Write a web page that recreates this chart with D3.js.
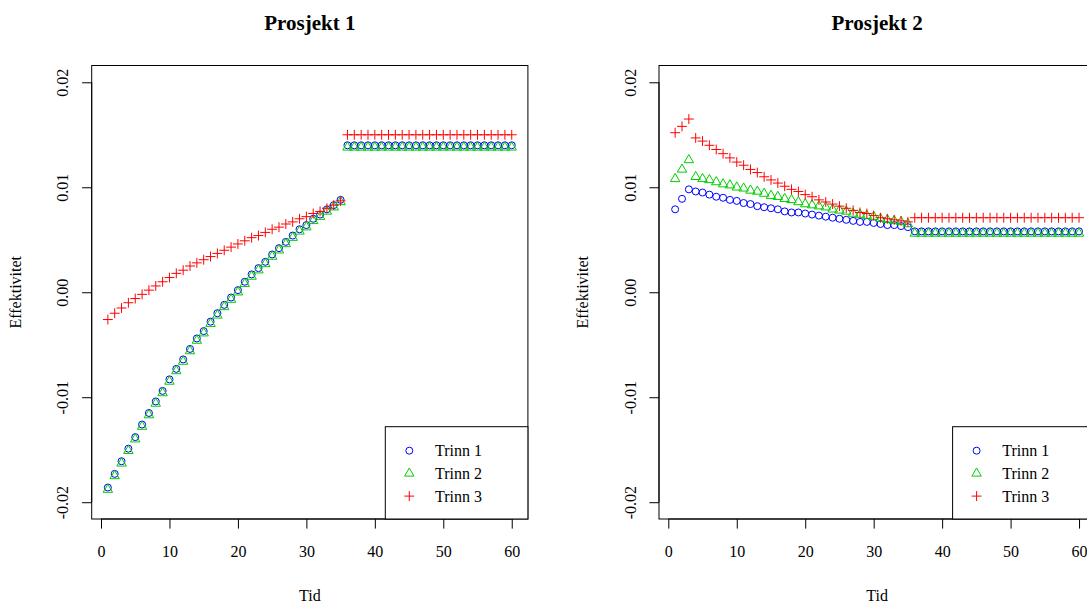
<!DOCTYPE html>
<html>
<head>
<meta charset="utf-8">
<script src="https://cdn.jsdelivr.net/npm/d3@7"></script>
<style>
body { margin: 0; background: #fff; }
svg { display: block; font-family: "Liberation Serif", "Times New Roman", serif; }
</style>
</head>
<body>
<div id="chart"></div>
<script>
// x = Tid, 1..60
var tid = d3.range(1, 61);

// Prosjekt 1
var p1Trinn1 = [-0.0186,-0.0173,-0.0161,-0.0149,-0.0138,-0.0126,-0.0115,-0.0104,-0.0094,-0.0083,
	-0.0073,-0.0064,-0.0054,-0.0044,-0.0037,-0.0028,-0.0020,-0.0012,-0.0005,0.0002,
	0.0010,0.0017,0.0023,0.0029,0.0036,0.0042,0.0048,0.0054,0.0060,0.0064,
	0.0070,0.0074,0.0079,0.0083,0.0088,0.0140,0.0140,0.0140,0.0140,0.0140,
	0.0140,0.0140,0.0140,0.0140,0.0140,0.0140,0.0140,0.0140,0.0140,0.0140,
	0.0140,0.0140,0.0140,0.0140,0.0140,0.0140,0.0140,0.0140,0.0140,0.0140];
var p1Trinn2 = [-0.0188,-0.0175,-0.0163,-0.0151,-0.0140,-0.0128,-0.0117,-0.0106,-0.0096,-0.0085,
	-0.0075,-0.0066,-0.0056,-0.0046,-0.0039,-0.0030,-0.0022,-0.0014,-0.0007,0.0000,
	0.0008,0.0015,0.0021,0.0027,0.0034,0.0040,0.0046,0.0052,0.0058,0.0062,
	0.0068,0.0072,0.0077,0.0081,0.0086,0.0138,0.0138,0.0138,0.0138,0.0138,
	0.0138,0.0138,0.0138,0.0138,0.0138,0.0138,0.0138,0.0138,0.0138,0.0138,
	0.0138,0.0138,0.0138,0.0138,0.0138,0.0138,0.0138,0.0138,0.0138,0.0138];
var p1Trinn3 = [-0.0026,-0.0020,-0.0015,-0.0010,-0.0006,-0.0002,0.0002,0.0006,0.0010,0.0014,
	0.0018,0.0021,0.0025,0.0028,0.0031,0.0034,0.0037,0.0040,0.0043,0.0046,
	0.0049,0.0052,0.0054,0.0057,0.0060,0.0062,0.0065,0.0067,0.0070,0.0072,
	0.0075,0.0077,0.0080,0.0083,0.0087,0.0150,0.0150,0.0150,0.0150,0.0150,
	0.0150,0.0150,0.0150,0.0150,0.0150,0.0150,0.0150,0.0150,0.0150,0.0150,
	0.0150,0.0150,0.0150,0.0150,0.0150,0.0150,0.0150,0.0150,0.0150,0.0150];

// Prosjekt 2
var p2Trinn1 = [0.0079,0.0089,0.0098,0.0096,0.0095,0.0093,0.0091,0.0090,0.0088,0.0087,
	0.0085,0.0084,0.0082,0.0081,0.0080,0.0079,0.0077,0.0076,0.0076,0.0075,
	0.0074,0.0073,0.0072,0.0071,0.0070,0.0069,0.0068,0.0067,0.0067,0.0066,
	0.0065,0.0064,0.0064,0.0063,0.0062,0.0058,0.0058,0.0058,0.0058,0.0058,
	0.0058,0.0058,0.0058,0.0058,0.0058,0.0058,0.0058,0.0058,0.0058,0.0058,
	0.0058,0.0058,0.0058,0.0058,0.0058,0.0058,0.0058,0.0058,0.0058,0.0058];
var p2Trinn2 = [0.0108,0.0117,0.0126,0.0110,0.0108,0.0107,0.0105,0.0103,0.0102,0.0100,
	0.0099,0.0097,0.0096,0.0094,0.0092,0.0091,0.0089,0.0088,0.0086,0.0084,
	0.0083,0.0082,0.0081,0.0079,0.0078,0.0077,0.0075,0.0074,0.0073,0.0072,
	0.0070,0.0069,0.0068,0.0067,0.0065,0.0056,0.0056,0.0056,0.0056,0.0056,
	0.0056,0.0056,0.0056,0.0056,0.0056,0.0056,0.0056,0.0056,0.0056,0.0056,
	0.0056,0.0056,0.0056,0.0056,0.0056,0.0056,0.0056,0.0056,0.0056,0.0056];
var p2Trinn3 = [0.0152,0.0158,0.0165,0.0147,0.0144,0.0140,0.0136,0.0132,0.0128,0.0124,
	0.0121,0.0117,0.0114,0.0110,0.0107,0.0104,0.0101,0.0098,0.0096,0.0093,
	0.0091,0.0088,0.0086,0.0084,0.0082,0.0080,0.0078,0.0076,0.0075,0.0073,
	0.0071,0.0070,0.0069,0.0068,0.0067,0.0071,0.0071,0.0071,0.0071,0.0071,
	0.0071,0.0071,0.0071,0.0071,0.0071,0.0071,0.0071,0.0071,0.0071,0.0071,
	0.0071,0.0071,0.0071,0.0071,0.0071,0.0071,0.0071,0.0071,0.0071,0.0071];

var titles = ["Prosjekt 1", "Prosjekt 2"];
var seriesNames = ["Trinn 1", "Trinn 2", "Trinn 3"];
var xTicks = [0, 10, 20, 30, 40, 50, 60];
var yTicks = [-0.02, -0.01, 0, 0.01, 0.02];
var yTickLabels = ["-0.02", "-0.01", "0.00", "0.01", "0.02"];

const width = 1087;
const height = 603;
const plotW = 436.2;
const plotTop = 65.5, plotBottom = 519;
const panelLefts = [91.7, 659];
const colors = ["#0000ff", "#00cd00", "#ff0000"];
const R = 3.5; // symbol radius

var svg = d3.select("#chart").append("svg")
	.attr("width", width)
	.attr("height", height);

function symbolPath(k) {
	if (k === 1) return `M0,${-1.555*R}L${1.347*R},${0.778*R}L${-1.347*R},${0.778*R}Z`;
	let a = 1.414 * R;
	return `M${-a},0H${a}M0,${-a}V${a}`;
}

function drawSymbol(g, k, x, y) {
	if (k === 0) {
		g.append("circle").attr("cx", x).attr("cy", y).attr("r", R)
			.attr("fill", "none").attr("stroke", colors[0]).attr("stroke-width", 1);
	} else {
		g.append("path").attr("d", symbolPath(k))
			.attr("transform", `translate(${x},${y})`)
			.attr("fill", "none").attr("stroke", colors[k]).attr("stroke-width", 1);
	}
}

function drawPanel(p, left, series) {
	let xScale = d3.scaleLinear().domain([-1.36, 62.36]).range([left, left + plotW]);
	let yScale = d3.scaleLinear().domain([-0.0216, 0.0216]).range([plotBottom, plotTop]);
	let g = svg.append("g");

	// title
	g.append("text")
		.attr("x", left + plotW / 2).attr("y", 30)
		.attr("text-anchor", "middle")
		.style("font-weight", "bold").style("font-size", "21px")
		.text(titles[p]);

	// x axis
	let xAxis = d3.axisBottom(xScale).tickValues(xTicks).tickSize(9.6);
	let gx = g.append("g")
		.attr("transform", `translate(0, ${plotBottom})`)
		.call(xAxis);
	gx.select(".domain").remove();
	gx.selectAll("line").attr("stroke", "#000");
	gx.selectAll("text")
		.attr("y", 38).attr("dy", 0)
		.style("font-size", "16px").style("font-family", "Liberation Serif, serif")
		.attr("fill", "#000");
	g.append("line")
		.attr("x1", xScale(xTicks[0])).attr("x2", xScale(xTicks[xTicks.length - 1]))
		.attr("y1", plotBottom).attr("y2", plotBottom)
		.attr("stroke", "#000");

	// y axis
	let yAxis = d3.axisLeft(yScale).tickValues(yTicks).tickSize(9.6)
		.tickFormat((d, i) => yTickLabels[i]);
	let gy = g.append("g")
		.attr("transform", `translate(${left}, 0)`)
		.call(yAxis);
	gy.select(".domain").remove();
	gy.selectAll("line").attr("stroke", "#000");
	gy.selectAll("text")
		.attr("x", 0).attr("dy", 0).attr("y", 0)
		.attr("text-anchor", "middle")
		.attr("transform", "translate(-23.5,0) rotate(-90)")
		.style("font-size", "16px").style("font-family", "Liberation Serif, serif")
		.attr("fill", "#000");
	g.append("line")
		.attr("x1", left).attr("x2", left)
		.attr("y1", yScale(yTicks[0])).attr("y2", yScale(yTicks[yTicks.length - 1]))
		.attr("stroke", "#000");

	// axis titles
	g.append("text")
		.attr("x", left + plotW / 2).attr("y", 600.5)
		.attr("text-anchor", "middle").style("font-size", "16px")
		.text("Tid");
	g.append("text")
		.attr("transform", `translate(${left - 71},${(plotTop + plotBottom) / 2}) rotate(-90)`)
		.attr("text-anchor", "middle").style("font-size", "16px")
		.text("Effektivitet");

	// box
	g.append("rect")
		.attr("x", left).attr("y", plotTop)
		.attr("width", plotW).attr("height", plotBottom - plotTop)
		.attr("fill", "none").attr("stroke", "#000");

	// points
	series.forEach(function(vals, k) {
		let sg = g.append("g");
		vals.forEach(function(v, i) {
			drawSymbol(sg, k, xScale(tid[i]), yScale(v));
		});
	});

	// legend
	let lx = left + 293.6;
	let ly = 426.7;
	let lg = g.append("g");
	lg.append("rect")
		.attr("x", lx).attr("y", ly)
		.attr("width", left + plotW - lx).attr("height", plotBottom - ly)
		.attr("fill", "#fff").attr("stroke", "#000");
	seriesNames.forEach(function(name, k) {
		let rowY = ly + 24 + k * 22.7;
		drawSymbol(lg, k, lx + 24, rowY);
		lg.append("text")
			.attr("x", lx + 49.7).attr("y", rowY + 5.5)
			.style("font-size", "16px")
			.text(name);
	});
}

drawPanel(0, panelLefts[0], [p1Trinn1, p1Trinn2, p1Trinn3]);
drawPanel(1, panelLefts[1], [p2Trinn1, p2Trinn2, p2Trinn3]);
</script>
</body>
</html>
